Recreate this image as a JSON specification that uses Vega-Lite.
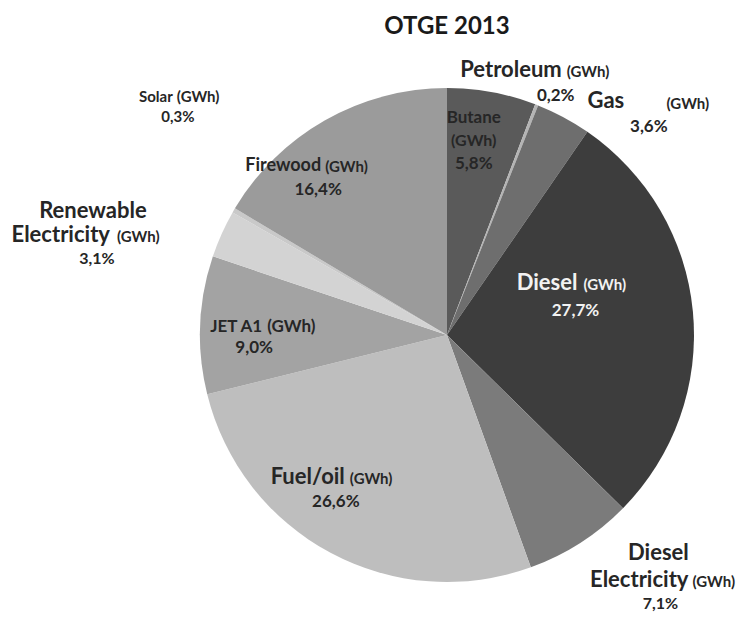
{
  "$schema": "https://vega.github.io/schema/vega-lite/v6.json",
  "width": 500,
  "height": 500,
  "autosize": {"type": "none"},
  "padding": {"left": 197, "top": 85, "right": 42, "bottom": 32},
  "background": "white",
  "title": {"text": "OTGE  2013", "font": "Lato", "fontSize": 24, "fontWeight": "bold", "color": "#1a1a1a", "anchor": "middle", "offset": 20},
  "data": {"values": [
    {"rank": 1, "fuel": "Butane", "value": 5.8, "pct": "5,8%"},
    {"rank": 2, "fuel": "Petroleum", "value": 0.2, "pct": "0,2%"},
    {"rank": 3, "fuel": "Gas", "value": 3.6, "pct": "3,6%"},
    {"rank": 4, "fuel": "Diesel", "value": 27.7, "pct": "27,7%"},
    {"rank": 5, "fuel": "Diesel Electricity", "value": 7.1, "pct": "7,1%"},
    {"rank": 6, "fuel": "Fuel/oil", "value": 26.6, "pct": "26,6%"},
    {"rank": 7, "fuel": "JET A1", "value": 9.0, "pct": "9,0%"},
    {"rank": 8, "fuel": "Renewable Electricity", "value": 3.1, "pct": "3,1%"},
    {"rank": 9, "fuel": "Solar", "value": 0.3, "pct": "0,3%"},
    {"rank": 10, "fuel": "Firewood", "value": 16.4, "pct": "16,4%"}
  ]},
  "layer": [
    {
      "mark": {"type": "arc", "radius": 247},
      "encoding": {
        "theta": {"field": "value", "type": "quantitative", "stack": true},
        "order": {"field": "rank", "type": "quantitative"},
        "color": {"field": "fuel", "type": "nominal", "legend": null,
          "scale": {"domain": ["Butane", "Petroleum", "Gas", "Diesel", "Diesel Electricity", "Fuel/oil", "JET A1", "Renewable Electricity", "Solar", "Firewood"],
                    "range": ["#5a5a5a", "#b4b4b4", "#6e6e6e", "#3d3d3d", "#7b7b7b", "#bebebe", "#a3a3a3", "#d3d3d3", "#c9c9c9", "#9b9b9b"]}}
      }
    },
    {
      "transform": [
        {"stack": "value", "groupby": [], "sort": [{"field": "rank", "order": "ascending"}], "as": ["t0", "t1"]},
        {"calculate": "(datum.t0 + datum.t1) / 2", "as": "tmid"}
      ],
      "encoding": {"theta": {"field": "tmid", "type": "quantitative", "stack": null}},
      "layer": [
        {"transform": [{"filter": "datum.fuel === 'Butane'"}],
         "mark": {"type": "text", "radius": 197, "dx": -9, "dy": -23, "font": "Lato", "fontSize": 17, "fontWeight": "bold", "fill": "#262626"},
         "encoding": {"text": {"field": "fuel"}}},
        {"transform": [{"filter": "datum.fuel === 'Butane'"}],
         "mark": {"type": "text", "radius": 197, "dx": -9, "dy": 0, "font": "Lato", "fontSize": 16, "fontWeight": "bold", "fill": "#262626"},
         "encoding": {"text": {"value": "(GWh)"}}},
        {"transform": [{"filter": "datum.fuel === 'Butane'"}],
         "mark": {"type": "text", "radius": 197, "dx": -9, "dy": 23, "font": "Lato", "fontSize": 17, "fontWeight": "bold", "fill": "#262626"},
         "encoding": {"text": {"field": "pct"}}},

        {"transform": [{"filter": "datum.fuel === 'Petroleum'"}],
         "mark": {"type": "text", "radius": 272, "dx": 16, "dy": -12, "align": "right", "font": "Lato", "fontSize": 22, "fontWeight": "bold", "fill": "#262626"},
         "encoding": {"text": {"field": "fuel"}}},
        {"transform": [{"filter": "datum.fuel === 'Petroleum'"}],
         "mark": {"type": "text", "radius": 272, "dx": 21, "dy": -10, "align": "left", "font": "Lato", "fontSize": 15, "fontWeight": "bold", "fill": "#262626"},
         "encoding": {"text": {"value": "(GWh)"}}},
        {"transform": [{"filter": "datum.fuel === 'Petroleum'"}],
         "mark": {"type": "text", "radius": 272, "dx": 10, "dy": 14, "font": "Lato", "fontSize": 17, "fontWeight": "bold", "fill": "#262626"},
         "encoding": {"text": {"field": "pct"}}},

        {"transform": [{"filter": "datum.fuel === 'Gas'"}],
         "mark": {"type": "text", "radius": 252, "dx": 40, "dy": -12, "font": "Lato", "fontSize": 22, "fontWeight": "bold", "fill": "#262626"},
         "encoding": {"text": {"field": "fuel"}}},
        {"transform": [{"filter": "datum.fuel === 'Gas'"}],
         "mark": {"type": "text", "radius": 252, "dx": 122, "dy": -9, "font": "Lato", "fontSize": 15, "fontWeight": "bold", "fill": "#262626"},
         "encoding": {"text": {"value": "(GWh)"}}},
        {"transform": [{"filter": "datum.fuel === 'Gas'"}],
         "mark": {"type": "text", "radius": 252, "dx": 83, "dy": 14, "font": "Lato", "fontSize": 17, "fontWeight": "bold", "fill": "#262626"},
         "encoding": {"text": {"field": "pct"}}},

        {"transform": [{"filter": "datum.fuel === 'Diesel'"}],
         "mark": {"type": "text", "radius": 125, "dx": 6, "dy": -40, "align": "right", "font": "Lato", "fontSize": 22, "fontWeight": "bold", "fill": "#f2f2f2"},
         "encoding": {"text": {"field": "fuel"}}},
        {"transform": [{"filter": "datum.fuel === 'Diesel'"}],
         "mark": {"type": "text", "radius": 125, "dx": 12, "dy": -38, "align": "left", "font": "Lato", "fontSize": 15, "fontWeight": "bold", "fill": "#f2f2f2"},
         "encoding": {"text": {"value": "(GWh)"}}},
        {"transform": [{"filter": "datum.fuel === 'Diesel'"}],
         "mark": {"type": "text", "radius": 125, "dx": 4, "dy": -12, "font": "Lato", "fontSize": 17, "fontWeight": "bold", "fill": "#f2f2f2"},
         "encoding": {"text": {"field": "pct"}}},

        {"transform": [{"filter": "datum.fuel === 'Diesel Electricity'"}],
         "mark": {"type": "text", "radius": 290, "dx": 55, "dy": -26, "font": "Lato", "fontSize": 22, "fontWeight": "bold", "fill": "#262626"},
         "encoding": {"text": {"value": "Diesel"}}},
        {"transform": [{"filter": "datum.fuel === 'Diesel Electricity'"}],
         "mark": {"type": "text", "radius": 290, "dx": 85, "dy": 1, "align": "right", "font": "Lato", "fontSize": 22, "fontWeight": "bold", "fill": "#262626"},
         "encoding": {"text": {"value": "Electricity"}}},
        {"transform": [{"filter": "datum.fuel === 'Diesel Electricity'"}],
         "mark": {"type": "text", "radius": 290, "dx": 89, "dy": 3, "align": "left", "font": "Lato", "fontSize": 15, "fontWeight": "bold", "fill": "#262626"},
         "encoding": {"text": {"value": "(GWh)"}}},
        {"transform": [{"filter": "datum.fuel === 'Diesel Electricity'"}],
         "mark": {"type": "text", "radius": 290, "dx": 57, "dy": 25, "font": "Lato", "fontSize": 16, "fontWeight": "bold", "fill": "#262626"},
         "encoding": {"text": {"field": "pct"}}},

        {"transform": [{"filter": "datum.fuel === 'Fuel/oil'"}],
         "mark": {"type": "text", "radius": 170, "dx": -22, "dy": -8, "align": "right", "font": "Lato", "fontSize": 22, "fontWeight": "bold", "fill": "#262626"},
         "encoding": {"text": {"field": "fuel"}}},
        {"transform": [{"filter": "datum.fuel === 'Fuel/oil'"}],
         "mark": {"type": "text", "radius": 170, "dx": -17, "dy": -6, "align": "left", "font": "Lato", "fontSize": 15, "fontWeight": "bold", "fill": "#262626"},
         "encoding": {"text": {"value": "(GWh)"}}},
        {"transform": [{"filter": "datum.fuel === 'Fuel/oil'"}],
         "mark": {"type": "text", "radius": 170, "dx": -31, "dy": 17, "font": "Lato", "fontSize": 17, "fontWeight": "bold", "fill": "#262626"},
         "encoding": {"text": {"field": "pct"}}},

        {"transform": [{"filter": "datum.fuel === 'JET A1'"}],
         "mark": {"type": "text", "radius": 190, "dx": 5, "dy": 0, "align": "right", "font": "Lato", "fontSize": 17, "fontWeight": "bold", "fill": "#262626"},
         "encoding": {"text": {"field": "fuel"}}},
        {"transform": [{"filter": "datum.fuel === 'JET A1'"}],
         "mark": {"type": "text", "radius": 190, "dx": 10, "dy": 0, "align": "left", "font": "Lato", "fontSize": 17, "fontWeight": "bold", "fill": "#262626"},
         "encoding": {"text": {"value": "(GWh)"}}},
        {"transform": [{"filter": "datum.fuel === 'JET A1'"}],
         "mark": {"type": "text", "radius": 190, "dx": -3, "dy": 21, "font": "Lato", "fontSize": 17, "fontWeight": "bold", "fill": "#262626"},
         "encoding": {"text": {"field": "pct"}}},

        {"transform": [{"filter": "datum.fuel === 'Renewable Electricity'"}],
         "mark": {"type": "text", "radius": 330, "dx": -53, "dy": 11, "font": "Lato", "fontSize": 22, "fontWeight": "bold", "fill": "#262626"},
         "encoding": {"text": {"value": "Renewable"}}},
        {"transform": [{"filter": "datum.fuel === 'Renewable Electricity'"}],
         "mark": {"type": "text", "radius": 330, "dx": -36, "dy": 35, "align": "right", "font": "Lato", "fontSize": 22, "fontWeight": "bold", "fill": "#262626"},
         "encoding": {"text": {"value": "Electricity"}}},
        {"transform": [{"filter": "datum.fuel === 'Renewable Electricity'"}],
         "mark": {"type": "text", "radius": 330, "dx": -29, "dy": 37, "align": "left", "font": "Lato", "fontSize": 15, "fontWeight": "bold", "fill": "#262626"},
         "encoding": {"text": {"value": "(GWh)"}}},
        {"transform": [{"filter": "datum.fuel === 'Renewable Electricity'"}],
         "mark": {"type": "text", "radius": 330, "dx": -49, "dy": 59, "font": "Lato", "fontSize": 16, "fontWeight": "bold", "fill": "#262626"},
         "encoding": {"text": {"field": "pct"}}},

        {"transform": [{"filter": "datum.fuel === 'Solar'"}],
         "mark": {"type": "text", "radius": 350, "dx": 28, "dy": -61, "align": "right", "font": "Lato", "fontSize": 15, "fontWeight": "bold", "fill": "#262626"},
         "encoding": {"text": {"field": "fuel"}}},
        {"transform": [{"filter": "datum.fuel === 'Solar'"}],
         "mark": {"type": "text", "radius": 350, "dx": 32, "dy": -61, "align": "left", "font": "Lato", "fontSize": 15, "fontWeight": "bold", "fill": "#262626"},
         "encoding": {"text": {"value": "(GWh)"}}},
        {"transform": [{"filter": "datum.fuel === 'Solar'"}],
         "mark": {"type": "text", "radius": 350, "dx": 33, "dy": -41, "font": "Lato", "fontSize": 15, "fontWeight": "bold", "fill": "#262626"},
         "encoding": {"text": {"field": "pct"}}},

        {"transform": [{"filter": "datum.fuel === 'Firewood'"}],
         "mark": {"type": "text", "radius": 180, "dx": -37, "dy": -12, "align": "right", "font": "Lato", "fontSize": 18, "fontWeight": "bold", "fill": "#262626"},
         "encoding": {"text": {"field": "fuel"}}},
        {"transform": [{"filter": "datum.fuel === 'Firewood'"}],
         "mark": {"type": "text", "radius": 180, "dx": -33, "dy": -11, "align": "left", "font": "Lato", "fontSize": 15, "fontWeight": "bold", "fill": "#262626"},
         "encoding": {"text": {"value": "(GWh)"}}},
        {"transform": [{"filter": "datum.fuel === 'Firewood'"}],
         "mark": {"type": "text", "radius": 180, "dx": -40, "dy": 12, "font": "Lato", "fontSize": 17, "fontWeight": "bold", "fill": "#262626"},
         "encoding": {"text": {"field": "pct"}}}
      ]
    }
  ]
}
